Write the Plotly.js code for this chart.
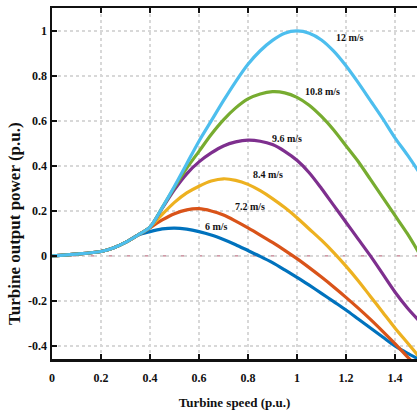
<!DOCTYPE html>
<html>
<head>
<meta charset="utf-8">
<script src="https://cdn.plot.ly/plotly-3.0.1.min.js"></script>
<style>html,body{margin:0;padding:0;background:#fff;}#chart{width:417px;height:414px;}</style>
</head>
<body>
<div id="chart"></div>
<script>
// Turbine speed (p.u.)
const speed = [0,0.1,0.2,0.25,0.3,0.35,0.4,0.45,0.5,0.55,0.6,0.65,0.7,0.75,0.8,0.85,0.9,0.95,1.0,1.05,1.1,1.15,1.2,1.25,1.3,1.35,1.4,1.45,1.5];

// Turbine output power (p.u.) per wind speed
const p6   = [0,0.008,0.02,0.035,0.06,0.092,0.108,0.12,0.124,0.119,0.108,0.093,0.073,0.05,0.024,-0.002,-0.03,-0.062,-0.095,-0.13,-0.166,-0.203,-0.24,-0.28,-0.32,-0.36,-0.4,-0.432,-0.46];
const p72  = [0,0.008,0.02,0.035,0.06,0.092,0.125,0.16,0.188,0.205,0.21,0.2,0.182,0.155,0.125,0.093,0.06,0.025,-0.012,-0.052,-0.094,-0.138,-0.184,-0.232,-0.282,-0.335,-0.39,-0.447,-0.505];
const p84  = [0,0.008,0.02,0.035,0.06,0.092,0.128,0.185,0.238,0.28,0.31,0.333,0.343,0.336,0.318,0.29,0.255,0.215,0.17,0.12,0.07,0.015,-0.045,-0.11,-0.18,-0.25,-0.32,-0.385,-0.45];
const p96  = [0,0.008,0.02,0.035,0.06,0.092,0.128,0.212,0.295,0.365,0.418,0.458,0.489,0.507,0.515,0.51,0.495,0.465,0.425,0.37,0.3,0.225,0.15,0.075,0.0,-0.08,-0.16,-0.23,-0.29];
const p108 = [0,0.008,0.02,0.035,0.06,0.092,0.128,0.215,0.305,0.39,0.465,0.54,0.605,0.658,0.698,0.72,0.73,0.725,0.705,0.67,0.62,0.56,0.49,0.42,0.34,0.26,0.18,0.1,0.01];
const p12  = [0,0.008,0.02,0.035,0.06,0.092,0.128,0.215,0.31,0.41,0.51,0.6,0.69,0.775,0.852,0.912,0.958,0.99,1.0,0.99,0.96,0.91,0.845,0.77,0.69,0.61,0.525,0.45,0.37];

const seriesNames = ['6 m/s','7.2 m/s','8.4 m/s','9.6 m/s','10.8 m/s','12 m/s'];
const seriesColors = ['#0072BD','#D95319','#EDB120','#7E2F8E','#77AC30','#4DBEEE'];
const seriesData = [p6,p72,p84,p96,p108,p12];

// label anchor positions (data coords)
const labelX = [0.673,0.808,0.882,0.959,1.106,1.216];
const labelY = [0.129,0.218,0.36,0.524,0.729,0.969];

const xTickVals = [0,0.2,0.4,0.6,0.8,1,1.2,1.4];
const xTickText = ['0','0.2','0.4','0.6','0.8','1','1.2','1.4'];
const yTickVals = [-0.4,-0.2,0,0.2,0.4,0.6,0.8,1];
const yTickText = ['-0.4','-0.2','0','0.2','0.4','0.6','0.8','1'];

const serif = '"Liberation Serif", "DejaVu Serif", serif';

const traces = seriesData.map((ys,i)=>({
  x: speed, y: ys, type:'scatter', mode:'lines', name: seriesNames[i],
  line:{color:seriesColors[i], width:3.2, shape:'spline', smoothing:0.8}
}));

const annotations = seriesNames.map((t,i)=>({
  x: labelX[i], y: labelY[i], xref:'x', yref:'y', text:'<b>'+t+'</b>',
  showarrow:false, font:{family:serif, size:10, color:'#111'}
}));
annotations.push({
  xref:'paper', yref:'paper', x:-0.101, y:0.385, xanchor:'center', yanchor:'middle',
  text:'<b>Turbine output power (p.u.)</b>', textangle:-90, showarrow:false,
  font:{family:serif, size:17, color:'#111'}
});

const layout = {
  width:417, height:414,
  margin:{l:52, r:0, t:8, b:55},
  paper_bgcolor:'#fff', plot_bgcolor:'#fff',
  showlegend:false,
  font:{family:serif, color:'#111'},
  xaxis:{
    range:[0,1.49], tickvals:xTickVals, ticktext:xTickText,
    showgrid:true, gridcolor:'#d8d8d8', griddash:'dot', gridwidth:1.2,
    zeroline:false, showline:true, linecolor:'#111', linewidth:2.5, mirror:'ticks',
    ticks:'inside', ticklen:5, tickwidth:2, tickcolor:'#111',
    tickfont:{family:serif, size:12, color:'#111', weight:'bold'},
    ticklabelstandoff:6,
    title:{text:'<b>Turbine speed (p.u.)</b>', font:{family:serif, size:13, color:'#111'}, standoff:14}
  },
  yaxis:{
    range:[-0.458,1.102], tickvals:yTickVals, ticktext:yTickText,
    showgrid:true, gridcolor:'#d8d8d8', griddash:'dot', gridwidth:1.2,
    zeroline:false, showline:true, linecolor:'#111', linewidth:2.5, mirror:false,
    ticks:'inside', ticklen:5, tickwidth:2, tickcolor:'#111',
    tickfont:{family:serif, size:12, color:'#111', weight:'bold'}
  },
  shapes:[{type:'line', xref:'paper', yref:'y', x0:0, x1:1, y0:0, y1:0,
    line:{color:'#c07a8a', width:1.3, dash:'dash'}, layer:'below'}],
  annotations: annotations
};

Plotly.newPlot('chart', traces, layout, {displayModeBar:false, staticPlot:true});
</script>
</body>
</html>
